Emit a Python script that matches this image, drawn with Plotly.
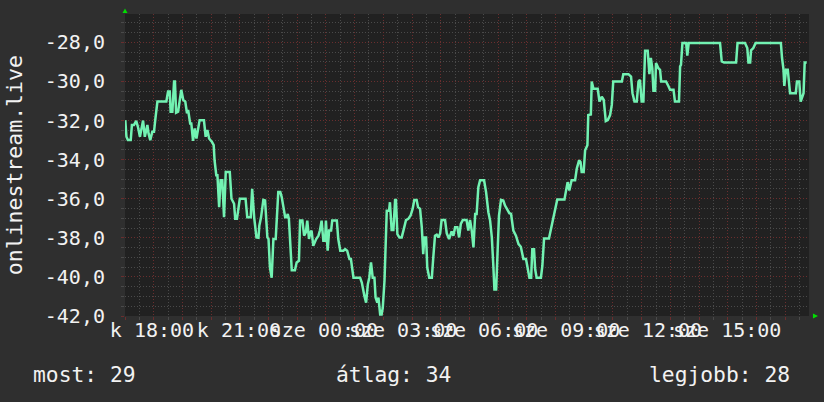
import plotly.graph_objects as go

# time axis: hours after 17:00 (left edge of the plot)
hours = [
    0.01, 0.05, 0.10, 0.20, 0.24, 0.31, 0.39, 0.45, 0.52, 0.63, 0.69, 0.78, 0.82, 0.88, 0.95, 1.01,
    1.06, 1.13, 1.44, 1.50, 1.56, 1.59, 1.65, 1.71, 1.74, 1.78, 1.85, 1.90, 1.96, 2.03, 2.10, 2.16,
    2.20, 2.27, 2.31, 2.37, 2.43, 2.49, 2.60, 2.75, 2.81, 2.87, 2.93, 3.03, 3.09, 3.12, 3.18, 3.22,
    3.28, 3.33, 3.39, 3.45, 3.51, 3.65, 3.71, 3.80, 3.84, 3.90, 4.00, 4.20, 4.26, 4.38, 4.43, 4.50,
    4.58, 4.65, 4.68, 4.74, 4.79, 4.82, 4.88, 4.91, 4.96, 5.00, 5.05, 5.11, 5.17, 5.25, 5.30, 5.34,
    5.41, 5.46, 5.52, 5.58, 5.63, 5.67, 5.71, 5.75, 5.81, 5.92, 5.98, 6.06, 6.10, 6.18, 6.24, 6.30,
    6.35, 6.41, 6.46, 6.50, 6.56, 6.66, 6.74, 6.79, 6.85, 6.91, 6.97, 7.00, 7.06, 7.11, 7.18, 7.22,
    7.38, 7.43, 7.50, 7.61, 7.67, 7.74, 7.82, 7.87, 7.96, 8.19, 8.25, 8.34, 8.40, 8.46, 8.51, 8.57,
    8.63, 8.69, 8.73, 8.79, 8.83, 8.89, 8.94, 8.98, 9.04, 9.12, 9.20, 9.23, 9.29, 9.35, 9.41, 9.44,
    9.49, 9.56, 9.64, 9.70, 9.79, 9.87, 9.95, 10.02, 10.08, 10.16, 10.21, 10.28, 10.34, 10.39, 10.43, 10.49,
    10.53, 10.60, 10.69, 10.74, 10.80, 10.86, 10.92, 10.98, 11.03, 11.15, 11.21, 11.29, 11.38, 11.44, 11.50, 11.58,
    11.64, 11.70, 11.77, 11.90, 11.96, 12.02, 12.08, 12.14, 12.20, 12.25, 12.31, 12.37, 12.51, 12.58, 12.66, 12.72,
    12.78, 12.83, 12.87, 12.93, 12.97, 13.03, 13.10, 13.18, 13.24, 13.30, 13.39, 13.45, 13.53, 13.62, 13.71, 13.79,
    13.88, 13.97, 14.03, 14.09, 14.15, 14.19, 14.25, 14.29, 14.34, 14.49, 14.54, 14.60, 14.77, 14.84, 14.92, 15.01,
    15.06, 15.31, 15.35, 15.42, 15.48, 15.56, 15.68, 15.74, 15.82, 15.87, 15.91, 15.98, 16.03, 16.11, 16.14, 16.23,
    16.26, 16.32, 16.47, 16.53, 16.61, 16.68, 16.75, 16.82, 16.90, 16.96, 17.01, 17.31, 17.36, 17.54, 17.63, 17.68,
    17.75, 17.83, 17.89, 17.94, 18.00, 18.06, 18.12, 18.21, 18.27, 18.32, 18.37, 18.41, 18.47, 18.50, 18.58, 18.64,
    18.68, 18.85, 18.93, 18.99, 19.11, 19.16, 19.30, 19.34, 19.37, 19.42, 19.55, 19.59, 19.64, 20.73, 20.79, 20.87,
    21.29, 21.34, 21.60, 21.68, 21.72, 21.78, 21.81, 21.89, 21.97, 22.85, 22.89, 22.94, 22.97, 23.03, 23.09, 23.12,
    23.17, 23.37, 23.41, 23.49, 23.54, 23.60, 23.64, 23.68, 23.75,
]

values = [
    -31.98, -32.83, -33.00, -33.00, -32.23, -32.23, -32.01, -32.32, -32.83, -32.00, -32.83, -32.23, -32.66, -33.00, -32.58, -32.58,
    -31.89, -31.03, -31.03, -30.52, -30.52, -31.55, -31.55, -30.00, -30.00, -31.60, -31.55, -31.03, -30.43, -30.95, -31.03, -31.63,
    -31.46, -32.15, -32.15, -33.04, -32.40, -32.92, -31.98, -31.98, -32.83, -32.49, -32.92, -33.09, -33.26, -34.03, -34.80, -34.80,
    -36.43, -35.06, -35.06, -36.95, -34.63, -34.63, -36.00, -36.26, -37.03, -37.03, -36.00, -36.00, -36.95, -36.95, -35.49, -36.95,
    -37.98, -38.00, -37.38, -36.95, -36.52, -36.06, -36.09, -36.78, -37.98, -38.06, -39.52, -40.04, -38.06, -38.06, -36.95, -35.66,
    -35.66, -35.92, -36.43, -36.95, -36.95, -36.78, -37.03, -38.06, -39.66, -39.66, -39.26, -39.18, -37.12, -37.12, -37.89, -37.72,
    -37.12, -38.06, -37.72, -37.63, -38.41, -38.06, -37.89, -37.63, -37.12, -38.15, -38.15, -37.12, -38.66, -37.63, -37.63, -37.12,
    -37.12, -38.06, -38.66, -38.66, -38.58, -38.66, -39.09, -39.09, -40.04, -40.04, -40.29, -40.98, -41.32, -40.38, -40.04, -39.26,
    -40.04, -40.04, -41.06, -41.32, -41.06, -41.92, -41.92, -41.58, -40.21, -36.61, -36.61, -36.18, -37.60, -37.60, -36.06, -36.06,
    -37.81, -37.98, -37.98, -37.63, -37.09, -37.03, -36.86, -36.52, -36.06, -36.06, -36.43, -36.52, -37.46, -38.84, -37.98, -37.98,
    -39.52, -40.04, -40.04, -39.01, -37.89, -37.84, -37.98, -37.77, -37.09, -37.09, -37.77, -38.06, -37.67, -37.89, -37.46, -37.46,
    -37.98, -37.29, -37.09, -37.09, -37.63, -37.09, -37.63, -38.49, -36.78, -36.78, -35.41, -35.06, -35.06, -35.66, -36.69, -37.12,
    -37.98, -39.35, -40.64, -40.64, -38.84, -36.86, -36.06, -36.09, -36.35, -36.52, -36.74, -36.78, -37.63, -37.89, -38.32, -38.46,
    -39.09, -39.09, -39.52, -40.04, -40.04, -38.58, -38.58, -39.61, -40.04, -40.04, -39.44, -38.03, -38.03, -37.55, -37.12, -36.43,
    -36.04, -36.04, -35.66, -35.15, -35.58, -35.06, -35.06, -34.46, -34.03, -34.12, -34.63, -34.63, -33.52, -33.26, -31.72, -31.69,
    -30.00, -30.38, -30.38, -31.03, -30.78, -30.95, -32.03, -31.98, -31.72, -31.20, -30.00, -30.00, -29.63, -29.63, -29.75, -30.60,
    -31.03, -31.03, -30.00, -29.92, -31.03, -31.03, -28.43, -28.43, -29.63, -28.80, -29.32, -30.48, -30.48, -29.06, -29.32, -29.41,
    -30.00, -30.00, -30.23, -30.43, -30.43, -31.03, -31.03, -29.23, -29.15, -28.03, -28.03, -28.68, -28.03, -28.03, -28.98, -29.03,
    -29.03, -28.03, -28.03, -28.29, -29.03, -29.03, -28.41, -28.29, -28.03, -28.03, -28.80, -29.37, -30.23, -29.40, -29.40, -30.00,
    -30.60, -30.60, -30.00, -30.00, -31.03, -30.78, -30.60, -29.03, -29.03,
]

x_label_hours = [0.94, 3.97, 6.93, 9.69, 12.51, 15.37, 18.22, 20.98]
x_labels = ["k 18:00", "k 21:00", "sze 00:00", "sze 03:00", "sze 06:00", "sze 09:00", "sze 12:00", "sze 15:00"]

y_tick_vals = [-42, -40, -38, -36, -34, -32, -30, -28]
y_tick_text = ["-42,0", "-40,0", "-38,0", "-36,0", "-34,0", "-32,0", "-30,0", "-28,0"]

axis_title = "onlinestream.live"
stats = ["most: 29", "átlag: 34", "legjobb: 28"]

X_MAX = 23.83
Y_RANGE = [-42.0, -26.55]

FONT = "DejaVu Sans Mono"
TXT = "#f2f2f2"
MAJOR = "#6a2e2e"
MINOR = "#4a4a4a"
LINE = "#72f2b2"

fig = go.Figure()
fig.add_trace(go.Scatter(
    x=hours, y=values, mode="lines",
    line=dict(color=LINE, width=2.5),
    hoverinfo="skip", showlegend=False,
))
fig.add_trace(go.Scatter(
    x=x_label_hours, y=[None] * len(x_label_hours), xaxis="x2", mode="markers",
    hoverinfo="skip", showlegend=False,
))

fig.update_layout(
    width=824, height=402,
    margin=dict(l=125, r=15, t=14, b=86),
    paper_bgcolor="#2f2f2f", plot_bgcolor="#212121",
    font=dict(family=FONT, size=20, color=TXT),
    hovermode=False,
    xaxis=dict(
        range=[0, X_MAX], tickmode="linear", tick0=0, dtick=1,
        showgrid=True, gridcolor=MAJOR, griddash="1px,2px", gridwidth=1,
        showticklabels=False, ticks="outside", ticklen=3, tickcolor=MAJOR,
        zeroline=False, showline=False,
        minor=dict(dtick=0.5, tick0=0, showgrid=True, gridcolor=MINOR, griddash="1px,2px",
                   ticks="outside", ticklen=3, tickcolor=MINOR),
    ),
    xaxis2=dict(
        range=[0, X_MAX], overlaying="x", anchor="y", side="bottom",
        tickmode="array", tickvals=x_label_hours, ticktext=x_labels, tickangle=0,
        showgrid=False, ticks="", zeroline=False, showline=False,
        tickfont=dict(family=FONT, size=20, color=TXT),
    ),
    yaxis=dict(
        range=Y_RANGE, tickmode="array", tickvals=y_tick_vals, ticktext=y_tick_text,
        showgrid=True, gridcolor=MAJOR, griddash="1px,2px", gridwidth=1,
        ticks="outside", ticklen=3, tickcolor=MAJOR, ticklabelstandoff=12,
        zeroline=False, showline=False,
        tickfont=dict(family=FONT, size=20, color=TXT),
        minor=dict(tickmode="linear", tick0=-42, dtick=0.5, showgrid=True, gridcolor=MINOR,
                   griddash="1px,2px", ticks="outside", ticklen=3, tickcolor=MINOR),
    ),
)

fig.add_annotation(text=axis_title, textangle=-90, xref="paper", yref="paper",
                   x=-0.162, y=0.5, xanchor="center", yanchor="middle", showarrow=False,
                   font=dict(family=FONT, size=21.5, color=TXT))

stat_x = [-0.137, 0.305, 0.7625]
for sx, st in zip(stat_x, stats):
    fig.add_annotation(text=st, xref="paper", yref="paper", x=sx, y=-0.195,
                       xanchor="left", yanchor="middle", showarrow=False,
                       font=dict(family=FONT, size=21.3, color=TXT))

# axis arrows
fig.add_shape(type="path", xref="paper", yref="paper",
              path="M -0.00365 1.0033 L 0.00365 1.0033 L 0 1.0182 Z",
              fillcolor="#00e000", line=dict(width=0))
fig.add_shape(type="path", xref="paper", yref="paper",
              path="M 1.0058 0.0083 L 1.0058 -0.0083 L 1.0132 0 Z",
              fillcolor="#00e000", line=dict(width=0))

fig.write_html("out.html", config={"displayModeBar": False, "staticPlot": True},
               post_script="document.body.style.margin='0px';")
